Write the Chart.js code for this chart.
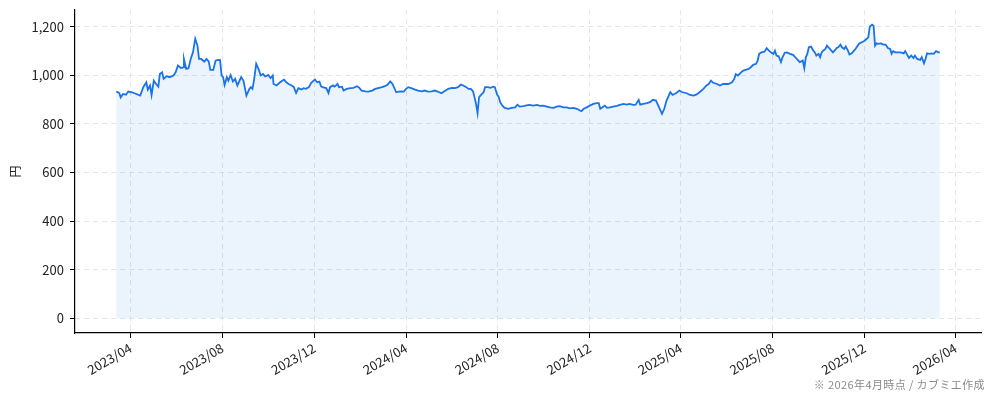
<!DOCTYPE html>
<html>
<head>
<meta charset="utf-8">
<script src="https://cdn.jsdelivr.net/npm/chart.js@4.4.1/dist/chart.umd.min.js"></script>
<style>
  html, body { margin: 0; padding: 0; background: #fff; }
  #wrap { position: relative; width: 994px; height: 401px; }
  #note {
    position: absolute; right: 9px; top: 376px;
    font: 11px "Noto Sans CJK JP", sans-serif; color: #8a8a8a;
    letter-spacing: 0.4px; white-space: nowrap;
  }
</style>
</head>
<body>
<div id="wrap">
  <canvas id="myChart" width="994" height="401"></canvas>
  <div id="note">※ 2026年4月時点 / カブミエ作成</div>
</div>
<script>
// price data
const dates = [
  '2023-03-13','2023-03-17','2023-03-19','2023-03-22','2023-03-26','2023-03-29','2023-04-03','2023-04-07',
  '2023-04-14','2023-04-18','2023-04-22','2023-04-24','2023-04-27','2023-04-29','2023-05-02','2023-05-05',
  '2023-05-08','2023-05-10','2023-05-13','2023-05-15','2023-05-19','2023-05-23','2023-05-28','2023-05-31',
  '2023-06-03','2023-06-07','2023-06-10','2023-06-11','2023-06-14','2023-06-17','2023-06-20','2023-06-23',
  '2023-06-26','2023-06-29','2023-07-01','2023-07-04','2023-07-08','2023-07-11','2023-07-14','2023-07-16',
  '2023-07-20','2023-07-23','2023-07-26','2023-07-29','2023-07-31','2023-08-02','2023-08-04','2023-08-07',
  '2023-08-09','2023-08-12','2023-08-15','2023-08-18','2023-08-21','2023-08-26','2023-08-29','2023-09-02',
  '2023-09-06','2023-09-08','2023-09-10','2023-09-12','2023-09-15','2023-09-18','2023-09-21','2023-09-24',
  '2023-09-27','2023-10-01','2023-10-04','2023-10-07','2023-10-08','2023-10-12','2023-10-16','2023-10-20',
  '2023-10-22','2023-10-25','2023-10-28','2023-11-01','2023-11-04','2023-11-07','2023-11-10','2023-11-14',
  '2023-11-17','2023-11-20','2023-11-24','2023-11-27','2023-12-02','2023-12-05','2023-12-08','2023-12-10',
  '2023-12-12','2023-12-17','2023-12-20','2023-12-22','2023-12-26','2023-12-28','2024-01-01','2024-01-03',
  '2024-01-07','2024-01-09','2024-01-13','2024-01-18','2024-01-22','2024-01-27','2024-01-30','2024-02-02',
  '2024-02-07','2024-02-11','2024-02-16','2024-02-20','2024-02-24','2024-02-29','2024-03-04','2024-03-07',
  '2024-03-11','2024-03-14','2024-03-19','2024-03-22','2024-03-26','2024-03-29','2024-04-01','2024-04-04',
  '2024-04-08','2024-04-13','2024-04-17','2024-04-22','2024-04-26','2024-04-30','2024-05-05','2024-05-09',
  '2024-05-13','2024-05-18','2024-05-22','2024-05-27','2024-06-01','2024-06-05','2024-06-09','2024-06-13',
  '2024-06-16','2024-06-20','2024-06-23','2024-06-26','2024-06-29','2024-07-01','2024-07-03','2024-07-05',
  '2024-07-07','2024-07-10','2024-07-13','2024-07-15','2024-07-19','2024-07-22','2024-07-26','2024-07-28',
  '2024-07-31','2024-08-02','2024-08-04','2024-08-07','2024-08-10','2024-08-15','2024-08-19','2024-08-24',
  '2024-08-27','2024-08-30','2024-09-04','2024-09-08','2024-09-12','2024-09-17','2024-09-22','2024-09-26',
  '2024-09-30','2024-10-05','2024-10-09','2024-10-14','2024-10-18','2024-10-22','2024-10-27','2024-10-31',
  '2024-11-05','2024-11-09','2024-11-14','2024-11-18','2024-11-20','2024-11-23','2024-11-27','2024-12-01',
  '2024-12-06','2024-12-10','2024-12-13','2024-12-15','2024-12-18','2024-12-21','2024-12-24','2024-12-28',
  '2025-01-01','2025-01-06','2025-01-10','2025-01-15','2025-01-19','2025-01-23','2025-01-28','2025-01-31',
  '2025-02-04','2025-02-06','2025-02-10','2025-02-15','2025-02-19','2025-02-23','2025-02-27','2025-03-01',
  '2025-03-04','2025-03-07','2025-03-10','2025-03-13','2025-03-18','2025-03-21','2025-03-26','2025-03-30',
  '2025-04-03','2025-04-09','2025-04-13','2025-04-18','2025-04-22','2025-04-27','2025-05-01','2025-05-05',
  '2025-05-08','2025-05-11','2025-05-14','2025-05-19','2025-05-23','2025-05-27','2025-05-30','2025-06-03',
  '2025-06-08','2025-06-11','2025-06-13','2025-06-16','2025-06-20','2025-06-23','2025-06-27','2025-06-30',
  '2025-07-03','2025-07-06','2025-07-10','2025-07-12','2025-07-14','2025-07-17','2025-07-21','2025-07-24',
  '2025-07-27','2025-07-30','2025-08-02','2025-08-04','2025-08-06','2025-08-09','2025-08-12','2025-08-14',
  '2025-08-17','2025-08-20','2025-08-24','2025-08-28','2025-08-31','2025-09-03','2025-09-06','2025-09-10',
  '2025-09-12','2025-09-14','2025-09-16','2025-09-18','2025-09-21','2025-09-24','2025-09-26','2025-09-28',
  '2025-10-01','2025-10-03','2025-10-05','2025-10-07','2025-10-10','2025-10-12','2025-10-15','2025-10-18',
  '2025-10-20','2025-10-23','2025-10-25','2025-10-27','2025-10-30','2025-11-01','2025-11-04','2025-11-06',
  '2025-11-09','2025-11-11','2025-11-14','2025-11-17','2025-11-19','2025-11-22','2025-11-24','2025-11-27',
  '2025-12-01','2025-12-04','2025-12-06','2025-12-08','2025-12-11','2025-12-13','2025-12-15','2025-12-17',
  '2025-12-19','2025-12-23','2025-12-26','2025-12-29','2026-01-01','2026-01-04','2026-01-06','2026-01-08',
  '2026-01-11','2026-01-15','2026-01-18','2026-01-22','2026-01-24','2026-01-26','2026-01-29','2026-02-01',
  '2026-02-04','2026-02-06','2026-02-09','2026-02-13','2026-02-15','2026-02-18','2026-02-20','2026-02-22',
  '2026-02-25','2026-02-28','2026-03-03','2026-03-06','2026-03-09','2026-03-11'
];
const prices = [
  933, 927, 909, 923, 920, 933, 930, 925,
  916, 951, 971, 941, 958, 919, 978, 964,
  953, 1005, 1012, 985, 996, 992, 999, 1012,
  1040, 1030, 1032, 1067, 1026, 1029, 1067, 1094,
  1150, 1122, 1067, 1067, 1056, 1067, 1056, 1022,
  1022, 1060, 1063, 1062, 999, 992, 960, 992,
  978, 1001, 974, 985, 958, 992, 978, 916,
  944, 951, 944, 978, 1047, 1026, 999, 1005,
  995, 1001, 988, 999, 964, 958, 969, 978,
  982, 971, 964, 958, 951, 927, 947, 941,
  947, 944, 951, 969, 982, 971, 974, 955,
  951, 947, 927, 951, 958, 953, 964, 951,
  953, 937, 944, 947, 948, 955, 948, 937,
  934, 933, 937, 944, 947, 951, 955, 960,
  975, 964, 930, 933, 934, 933, 944, 951,
  947, 941, 937, 934, 937, 933, 934, 937,
  933, 926, 934, 944, 948, 947, 951, 962,
  958, 951, 944, 944, 934, 909, 882, 844,
  910, 920, 930, 951, 951, 948, 953, 951,
  920, 912, 889, 875, 866, 862, 866, 868,
  879, 871, 873, 876, 878, 875, 878, 874,
  875, 871, 868, 866, 871, 873, 868, 868,
  864, 866, 862, 855, 852, 862, 868, 875,
  882, 885, 885, 862, 868, 875, 866, 868,
  871, 874, 878, 882, 879, 882, 878, 879,
  899, 879, 882, 885, 889, 899, 896, 882,
  862, 841, 862, 896, 930, 919, 927, 937,
  930, 926, 919, 916, 921, 933, 944, 958,
  964, 978, 969, 964, 958, 964, 964, 964,
  971, 985, 1005, 999, 1012, 1019, 1023, 1026,
  1033, 1043, 1047, 1060, 1088, 1094, 1097, 1111,
  1101, 1094, 1088, 1101, 1081, 1078, 1054, 1074,
  1092, 1094, 1088, 1084, 1074, 1064, 1054, 1060,
  1029, 1074, 1088, 1115, 1118, 1101, 1094, 1081,
  1088, 1074, 1094, 1101, 1108, 1122, 1112, 1101,
  1094, 1104, 1112, 1115, 1126, 1115, 1108, 1118,
  1101, 1085, 1090, 1101, 1108, 1122, 1131, 1135,
  1142, 1150, 1156, 1200, 1208, 1204, 1122, 1131,
  1129, 1131, 1126, 1126, 1112, 1108, 1088, 1099,
  1094, 1094, 1094, 1090, 1099, 1088, 1071, 1081,
  1071, 1081, 1067, 1063, 1074, 1049, 1067, 1090,
  1088, 1090, 1088, 1099, 1094, 1094
];
const tickDates = ['2023-04-01','2023-08-01','2023-12-01','2024-04-01','2024-08-01','2024-12-01','2025-04-01','2025-08-01','2025-12-01','2026-04-01'];
const tickLabels = ['2023/04','2023/08','2023/12','2024/04','2024/08','2024/12','2025/04','2025/08','2025/12','2026/04'];
const yTicks = [0, 200, 400, 600, 800, 1000, 1200];

const toMs = s => Date.parse(s + 'T00:00:00Z');
const points = dates.map((d, i) => ({ x: toMs(d), y: prices[i] }));
const tickMs = tickDates.map(toMs);

// matplotlib style 5% margins
const xFirst = toMs(dates[0]), xLast = toMs(dates[dates.length - 1]);
const xPad = (xLast - xFirst) * 0.05;
const yMaxData = Math.max(...prices);
const yPad = yMaxData * 0.05;

const FONT = '"Noto Sans CJK JP", "Noto Sans", sans-serif';
const gridColor = '#e2e5ea';

const config = {
  type: 'line',
  data: {
    datasets: [{
      data: points,
      borderColor: '#1a73e8',
      borderWidth: 1.8,
      backgroundColor: 'rgba(26,115,232,0.085)',
      fill: 'origin',
      pointRadius: 0,
      tension: 0
    }]
  },
  options: {
    responsive: false,
    animation: false,
    layout: { padding: { top: 10, right: 13, left: 0, bottom: 0 } },
    plugins: {
      legend: { display: false },
      tooltip: { enabled: false }
    },
    scales: {
      x: {
        type: 'linear',
        min: xFirst - xPad,
        max: xLast + xPad,
        afterBuildTicks: s => { s.ticks = tickMs.map(v => ({ value: v })); },
        afterFit: s => { s.height = 68; },
        ticks: {
          autoSkip: false,
          minRotation: 30,
          maxRotation: 30,
          padding: 2,
          color: '#222',
          font: { family: FONT, size: 13 },
          callback: (v) => tickLabels[tickMs.indexOf(v)]
        },
        grid: { color: gridColor, lineWidth: 1, tickColor: '#000', tickLength: 5, tickWidth: 1 },
        border: { color: '#000', width: 1.2, dash: [5, 4] }
      },
      y: {
        min: -yPad,
        max: yMaxData + yPad,
        afterBuildTicks: s => { s.ticks = yTicks.map(v => ({ value: v })); },
        afterFit: s => { s.width = 75; s.paddingTop = 0; s.paddingBottom = 0; },
        ticks: {
          padding: 6,
          color: '#222',
          font: { family: FONT, size: 13 },
          callback: v => v.toLocaleString('en-US')
        },
        title: {
          display: true,
          text: '円',
          color: '#222',
          font: { family: FONT, size: 12 },
          padding: { top: 8, bottom: 0 }
        },
        grid: { color: gridColor, lineWidth: 1, tickColor: '#000', tickLength: 5, tickWidth: 1 },
        border: { color: '#000', width: 1.2, dash: [5, 4] }
      }
    }
  }
};

const myChart = new Chart(document.getElementById('myChart'), config);
</script>
</body>
</html>
